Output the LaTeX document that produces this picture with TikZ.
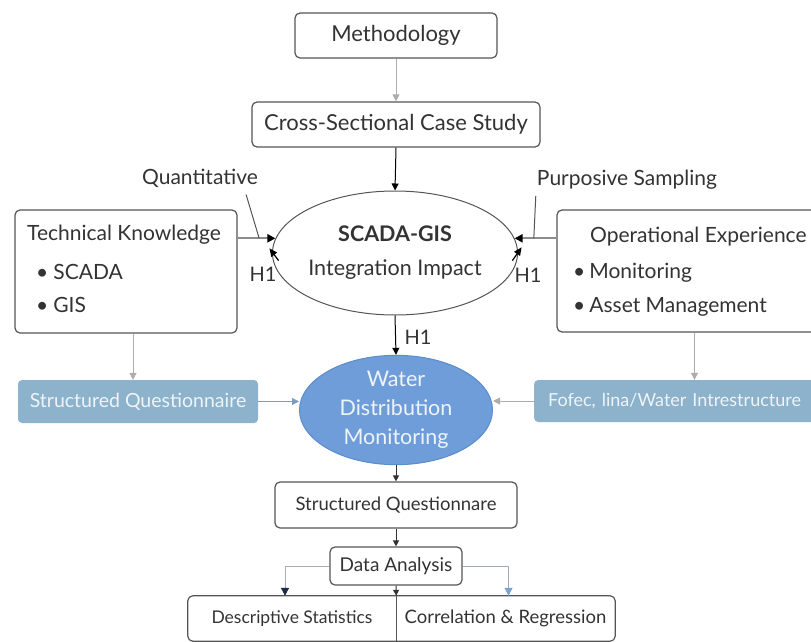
\documentclass[tikz,border=0pt]{standalone}
\usepackage{fontspec}
\setmainfont{Lato}
\usetikzlibrary{arrows.meta,shapes.geometric,calc}
\definecolor{txt}{HTML}{333333}
\definecolor{edge}{HTML}{555555}
\definecolor{lgray}{HTML}{ADADAD}
\definecolor{mgray}{HTML}{8C8C8C}
\definecolor{bluebox}{HTML}{8DB2CB}
\definecolor{bluetxt}{HTML}{EEF4F8}
\definecolor{waterfill}{HTML}{6E9DDA}
\definecolor{wateredge}{HTML}{5B8CCB}
\definecolor{navy}{HTML}{1F2A44}
\definecolor{ltblue}{HTML}{7FA2CC}
\begin{document}
\begin{tikzpicture}[x=1pt,y=-1pt,
  box/.style={draw=edge, line width=1.2pt, rounded corners=5pt, text=txt, inner sep=0pt, fill=white},
  lbl/.style={text=txt, inner sep=0pt, font=\fontsize{21}{25}\selectfont},
  bluebx/.style={fill=bluebox, draw=none, rounded corners=4pt, text=bluetxt, inner sep=0pt, font=\fontsize{19.5}{23}\selectfont},
  tip/.style={-{Triangle[length=7pt,width=7pt]}},
  smalltip/.style={-{Triangle[length=6pt,width=6pt]}},
  htip/.style={-{Triangle[length=8pt,width=7pt]}}
]
\useasboundingbox (0,0) rectangle (811,642);

% top boxes
\node[box, minimum width=202pt, minimum height=45pt, font=\fontsize{22}{26}\selectfont] (meth) at (396,35.5) {Methodology};
\node[box, minimum width=288pt, minimum height=45pt, font=\fontsize{22}{26}\selectfont] (cross) at (396,124.5) {Cross-Sectional Case Study};

% central ellipse
\node[ellipse, draw=edge, line width=1pt, fill=white, text=txt, minimum width=204pt, minimum height=124pt, inner sep=0pt, align=center, font=\fontsize{21.5}{34}\selectfont] (scada) at (395,253) {\textbf{SCADA-GIS}\\Integration Impact};

% side boxes
\node[box, minimum width=222pt, minimum height=123pt] (tech) at (126,271.5) {};
\node[lbl, anchor=west] (tk) at (27,235) {Technical Knowledge};
\node[lbl, anchor=west] (tk1) at (36,272) {•\hspace{5pt}SCADA};
\node[lbl, anchor=west] (tk2) at (36,305) {•\hspace{5pt}GIS};

\node[box, minimum width=263pt, minimum height=122pt] (oper) at (688.5,271) {};
\node[lbl, anchor=west] (oe) at (590,237) {Operational Experience};
\node[lbl, anchor=west] (oe1) at (573,273) {•\hspace{4pt}Monitoring};
\node[lbl, anchor=west] (oe2) at (573,307) {•\hspace{4pt}Asset Management};

% labels
\node[lbl] (quant) at (200,178) {Quantitative};
\node[lbl] (purp) at (627,180) {Purposive Sampling};
\node[lbl, font=\fontsize{20}{24}\selectfont] (h1a) at (263,274) {H1};
\node[lbl, font=\fontsize{20}{24}\selectfont] (h1b) at (528,275) {H1};
\node[lbl, font=\fontsize{20}{24}\selectfont] (h1c) at (418,337) {H1};

% blue row
\node[bluebx, minimum width=240pt, minimum height=43pt] (lq) at (138,401.5) {Structured Questionnaire};
\node[bluebx, minimum width=300pt, minimum height=42pt, anchor=west, align=left, text width=300pt, font=\fontsize{18}{22}\selectfont] (rq) at (534,401) {\hspace{14pt}Fofec, lina/Water Intrestructure};
\node[ellipse, fill=waterfill, draw=wateredge, line width=1pt, text=bluetxt, minimum width=193pt, minimum height=106pt, inner sep=0pt, align=center, font=\fontsize{21.5}{29}\selectfont] (water) at (396,410) {Water\\Distribution\\Monitoring};

% bottom
\node[box, minimum width=242pt, minimum height=46pt, font=\fontsize{18.5}{22}\selectfont] (sq) at (396,505) {Structured Questionnare};
\node[box, minimum width=132pt, minimum height=38pt, font=\fontsize{19}{22}\selectfont] (da) at (396,566) {Data Analysis};
\node[text=txt, inner sep=0pt, minimum width=208pt, minimum height=45pt, font=\fontsize{17.5}{21}\selectfont] (ds) at (292,618.5) {Descriptive Statistics};
\node[text=txt, inner sep=0pt, minimum width=219pt, minimum height=45pt, font=\fontsize{18.5}{21}\selectfont] (cr) at (505.5,618.5) {Correlation \& Regression};
\draw[edge, line width=1.2pt, rounded corners=5pt] (ds.north west) rectangle (cr.south east);
\draw[edge, line width=1.2pt] (ds.north east) -- (ds.south east);

% connectors top
\draw[lgray, line width=1pt, tip] (meth.south) -- (cross.north);
\draw[black, line width=1pt, tip] (cross.south) -- (scada.north);

% side arrows
\draw[mgray, line width=2.2pt, -{Triangle[length=8pt,width=8pt,fill=black,color=black]}] (tech.east |- scada.173) -- (scada.173);
\draw[mgray, line width=2.2pt, -{Triangle[length=8pt,width=8pt,fill=black,color=black]}] (oper.west |- scada.7) -- (scada.7);
\coordinate (qe) at ($(tech.east |- scada.173)!0.57!(scada.173)$);
\coordinate (pe) at ($(oper.west |- scada.7)!0.54!(scada.7)$);
\draw[edge, line width=1pt] ($(quant.south east)+(-12,7)$) -- (qe);
\draw[edge, line width=1pt] ($(purp.south west)+(-1,6)$) -- (pe);
\draw[black, line width=1.2pt, htip] ($(h1a.north east)+(2,-6)$) -- ($(scada.173)+(-6,10)$);
\draw[black, line width=1.2pt, htip] ($(h1b.north west)+(-2,-7)$) -- ($(scada.7)+(7,9)$);

% center
\draw[black, line width=1pt, tip] (scada.south) -- (water.north);
\coordinate (ta) at ($(tech.south)+(7,0)$);
\coordinate (oa) at ($(oper.south)+(6,0)$);
\draw[lgray, line width=1pt, tip] (ta) -- (ta |- lq.north);
\draw[lgray, line width=1pt, tip] (oa) -- (oa |- rq.north);
\draw[ltblue!80!gray, line width=1pt, tip] (lq.east) -- (lq.east -| water.west);
\draw[lgray, line width=1pt, tip] (rq.west) -- (rq.west -| water.east);

% bottom connectors
\draw[black!80, line width=1pt, smalltip] (water.south) -- (sq.north);
\draw[black!80, line width=1pt, smalltip] (sq.south) -- (da.north);
\draw[black!80, line width=1pt, smalltip] (da.south) -- (ds.north east);
\draw[lgray, line width=1pt, -{Triangle[length=8pt,width=8pt,color=navy]}] (da.west) -| ([xshift=-7pt]ds.north);
\draw[lgray!70!ltblue, line width=1pt, -{Triangle[length=8pt,width=8pt,color=ltblue]}] (da.east) -| ([xshift=3pt]cr.north);
\end{tikzpicture}
\end{document}
